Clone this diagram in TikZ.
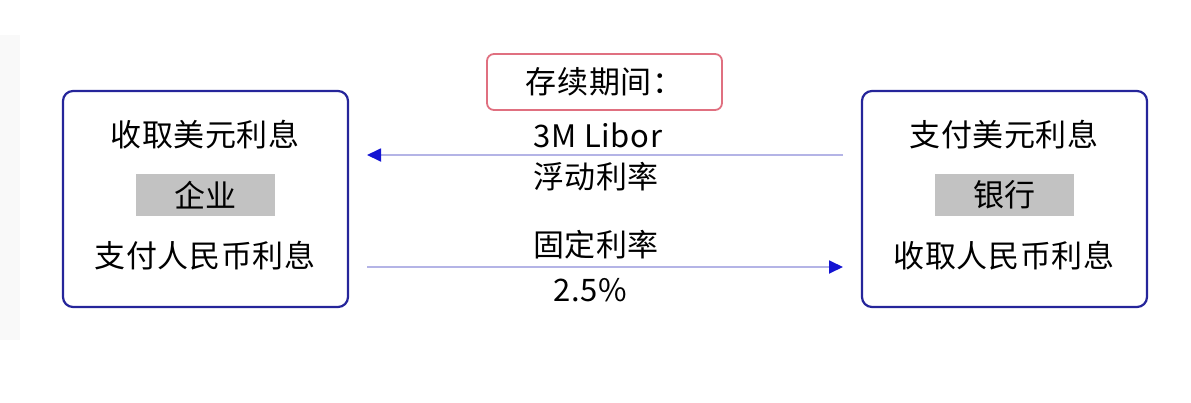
\documentclass[tikz,border=0pt]{standalone}
\usepackage{fontspec}
\setmainfont[LetterSpace=2]{Noto Sans CJK SC}
\usetikzlibrary{arrows.meta}
\definecolor{boxblue}{HTML}{25259A}
\definecolor{linelav}{HTML}{B4B4E6}
\definecolor{tipblue}{HTML}{1414D2}
\definecolor{redbord}{HTML}{E07080}
\definecolor{grayfill}{HTML}{C2C2C2}
\definecolor{band}{HTML}{F9F9F9}
\tikzset{
  party/.style={draw=boxblue, line width=2.2pt, rounded corners=10pt, minimum width=285pt, minimum height=216pt, inner sep=0pt},
  label/.style={inner sep=0pt, font=\fontsize{31}{34}\selectfont},
  tag/.style={fill=grayfill, minimum width=139pt, minimum height=42pt, inner sep=0pt, font=\fontsize{31}{34}\selectfont},
  period/.style={draw=redbord, line width=1.8pt, rounded corners=7pt, minimum width=235pt, minimum height=56pt, inner sep=0pt, font=\fontsize{31}{34}\selectfont},
  flow/.style={draw=linelav, line width=1.8pt, -{Triangle[length=14pt,width=13pt,color=tipblue]}},
}
\begin{document}
\begin{tikzpicture}[x=1pt,y=-1pt]
\useasboundingbox (0,0) rectangle (1191,402);
\fill[band] (0,35) rectangle (20,340);
% boxes
\node[party] (corp) at (205.5,199) {};
\node[party] (bank) at (1004.5,199) {};
\node[label] (c1) at (205,135) {收取美元利息};
\node[tag] (c2) at (205.5,195) {企业};
\node[label] (c3) at (205,256) {支付人民币利息};
\node[label] (b1) at (1004,135) {支付美元利息};
\node[tag] (b2) at (1004.5,195) {银行};
\node[label] (b3) at (1004,256) {收取人民币利息};
% period
\node[period] (per) at (604.5,82) {存续期间：};
% arrows
\coordinate (tS) at (843,155);
\coordinate (tE) at (367,155);
\coordinate (bS) at (367,267);
\coordinate (bE) at (843,267);
\draw[flow] (tS) -- (tE);
\draw[flow] (bS) -- (bE);
\node[label] (lib) at (598,135) {3M Libor};
\node[label] (flt) at (596,177) {浮动利率};
\node[label] (fix) at (596,245) {固定利率};
\node[label] (pct) at (590,290) {2.5\%};
\end{tikzpicture}
\end{document}
